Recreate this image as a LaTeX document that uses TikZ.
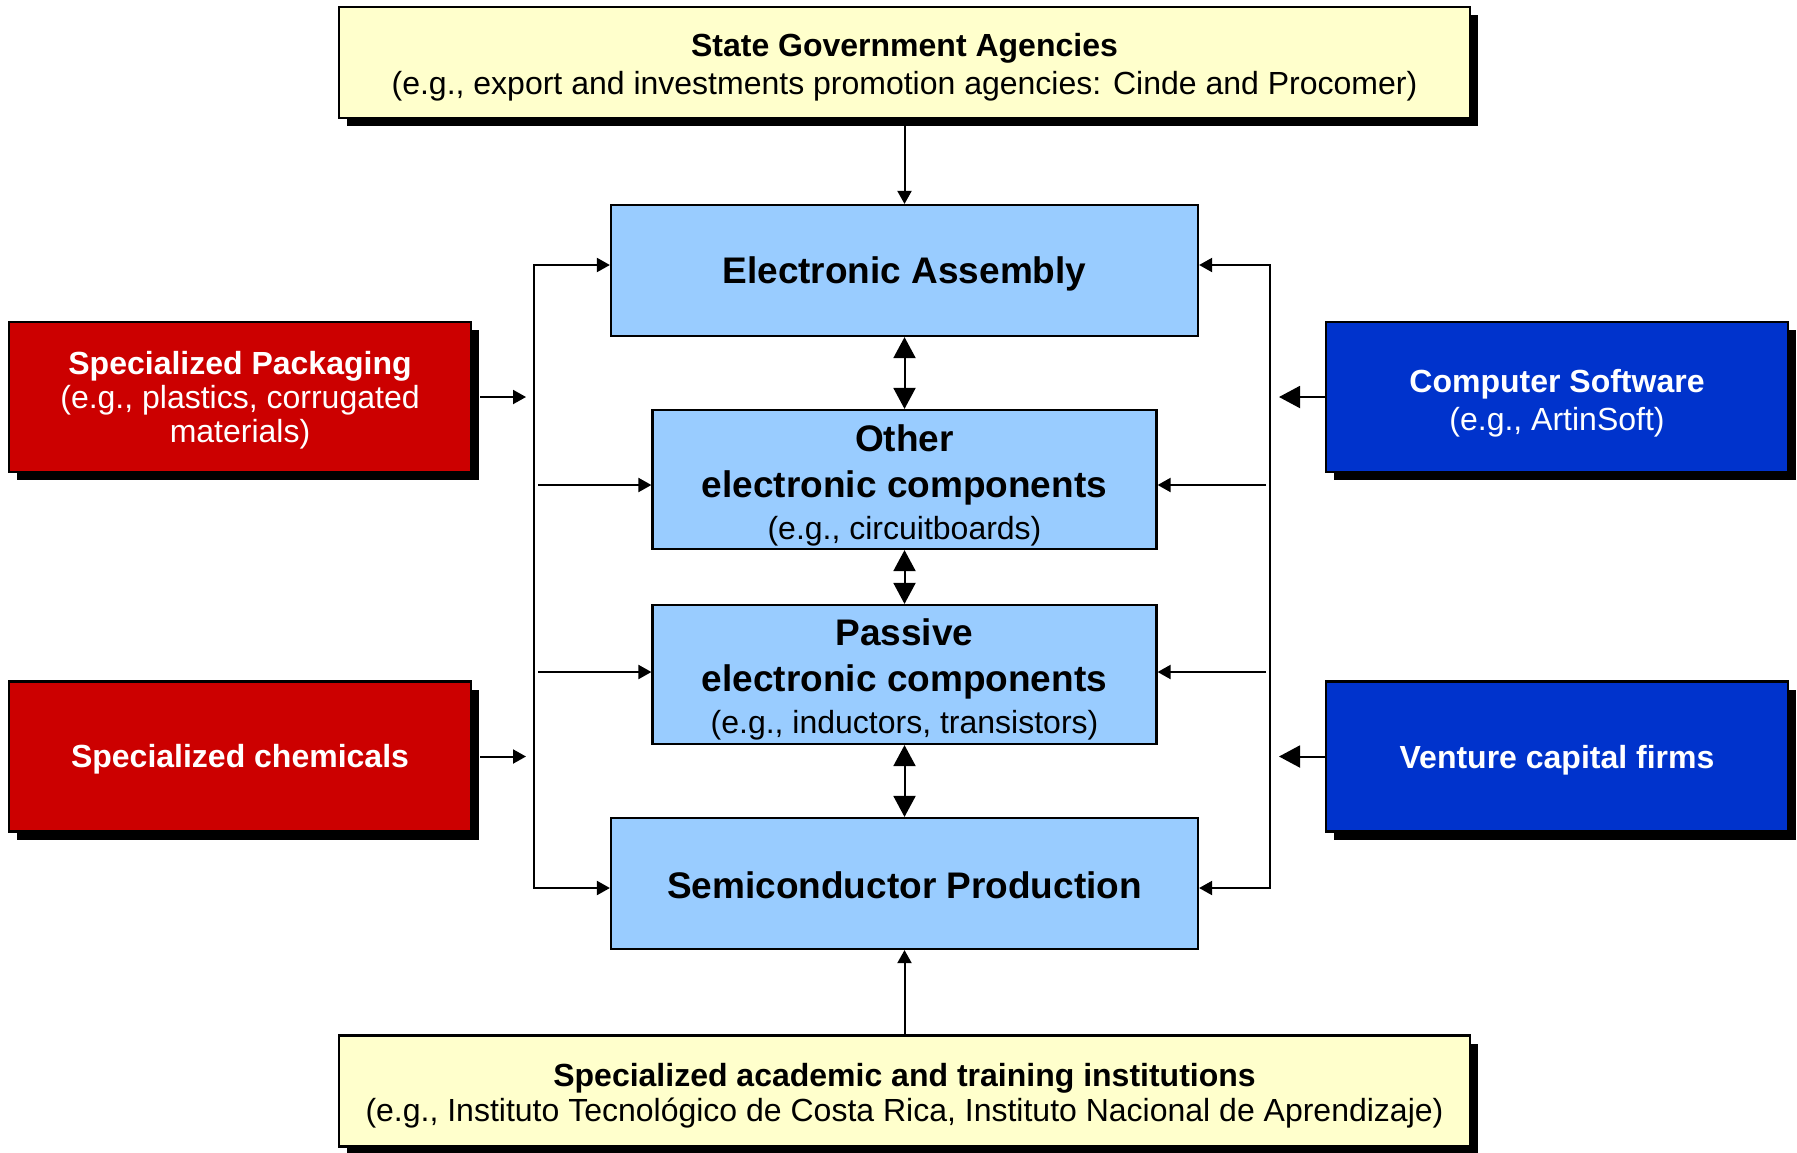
\documentclass[tikz,border=0pt]{standalone}
\usepackage{fontspec}
\setmainfont{Liberation Sans}
\usetikzlibrary{arrows.meta,shadows}

\definecolor{govyellow}{RGB}{255,255,204}
\definecolor{coreblue}{RGB}{153,204,255}
\definecolor{supred}{RGB}{204,0,0}
\definecolor{finblue}{RGB}{0,51,204}

\newcommand{\subfont}{\fontsize{16}{19}\selectfont\mdseries}
\newcommand{\lift}[1]{\rule{0pt}{#1}} % pushes a text down a little

\tikzset{
  box/.style={draw=black, line width=1.1pt, align=center, inner sep=0pt},
  shadowbox/.style={box, drop shadow={shadow xshift=4pt, shadow yshift=-4pt, fill=black, opacity=1}},
  govbox/.style={shadowbox, fill=govyellow, minimum width=565.5pt, minimum height=55.5pt,
    font=\fontsize{16}{17.5}\selectfont},
  corebox/.style={box, fill=coreblue, font=\fontsize{18.5}{23}\selectfont\bfseries},
  supbox/.style={shadowbox, fill=supred, text=white, minimum width=231pt, minimum height=75pt,
    font=\fontsize{16}{17}\selectfont},
  finbox/.style={shadowbox, fill=finblue, text=white, minimum width=231pt, minimum height=75pt,
    font=\fontsize{16}{19}\selectfont},
  link/.style={line width=1pt, -{Triangle[length=6.5pt,width=7pt]}},
  buslink/.style={line width=1pt, {Triangle[length=6.5pt,width=7pt]}-{Triangle[length=6.5pt,width=7pt]}},
  bigtip/.style={line width=1pt, -{Triangle[length=10.5pt,width=11pt]}},
  dbl/.style={line width=1pt, {Triangle[length=10.5pt,width=11pt]}-{Triangle[length=10.5pt,width=11pt]}}
}

\begin{document}
\begin{tikzpicture}[x=0.5pt,y=-0.5pt]
  \useasboundingbox (0,0) rectangle (1797,1152);

  % outer actors
  \node[govbox] (gov) at (904.5,62.5)
    {\lift{16.7pt}\textbf{State Government Agencies}\\[1.5pt](e.g., export and investments promotion agencies: Cinde and Procomer)};
  \node[govbox] (acad) at (904.5,1091)
    {\lift{16.3pt}\textbf{Specialized academic and training institutions}\\(e.g., Instituto Tecnológico de Costa Rica, Instituto Nacional de Aprendizaje)};
  \node[supbox] (pack) at (240,397)
    {\lift{15.1pt}\textbf{Specialized Packaging}\\(e.g., plastics, corrugated\\materials)};
  \node[supbox] (chem) at (240,756.5) {\lift{14.5pt}\textbf{Specialized chemicals}};
  \node[finbox] (soft) at (1557,397) {\lift{17.4pt}\textbf{Computer Software}\\(e.g., ArtinSoft)};
  \node[finbox] (vent) at (1557,756.5) {\lift{15pt}\textbf{Venture capital firms}};

  % core chain
  \node[corebox, minimum width=293.5pt, minimum height=65.5pt] (ea) at (904.5,270.5) {\lift{17pt}Electronic Assembly};
  \node[corebox, minimum width=252pt, minimum height=69.5pt] (other) at (904.5,479.5)
    {\lift{19.2pt}Other\\electronic components\\[-2.3pt]{\subfont(e.g., circuitboards)}};
  \node[corebox, minimum width=252pt, minimum height=69.5pt] (passive) at (904.5,674.5)
    {\lift{18.4pt}Passive\\electronic components\\[-2.3pt]{\subfont(e.g., inductors, transistors)}};
  \node[corebox, minimum width=293.5pt, minimum height=65.5pt] (semi) at (904.5,883.5) {\lift{15pt}Semiconductor Production};

  \foreach \a/\b in {ea/other,other/passive,passive/semi}
    \draw[dbl] (\a.south) -- (\b.north);

  \draw[link] (gov.south) -- (ea.north);
  \draw[link] (acad.north) -- (semi.south);

  % the two bus lines
  \coordinate (lline) at (534,0);
  \coordinate (rline) at (1270,0);
  \coordinate (eaL) at ([yshift=2.75pt]ea.west);
  \coordinate (eaR) at ([yshift=2.75pt]ea.east);
  \coordinate (semiL) at ([yshift=-2.25pt]semi.west);
  \coordinate (semiR) at ([yshift=-2.25pt]semi.east);
  \draw[buslink] (eaL) -| (lline |- semiL) -- (semiL);
  \draw[buslink] (eaR) -| (rline |- semiR) -- (semiR);
  \foreach \n/\dy in {other/-2.75pt,passive/1.25pt} {
    \draw[link] ([xshift=2pt,yshift=\dy]lline |- \n.west) -- ([yshift=\dy]\n.west);
    \draw[link] ([xshift=-2pt,yshift=\dy]rline |- \n.east) -- ([yshift=\dy]\n.east);
  }

  \foreach \n in {pack,chem}
    \draw[link] ([xshift=4pt]\n.east) -- ([xshift=-4pt]lline |- \n.east);
  \foreach \n in {soft,vent}
    \draw[bigtip] (\n.west) -- ([xshift=4.5pt]rline |- \n.west);
\end{tikzpicture}
\end{document}
